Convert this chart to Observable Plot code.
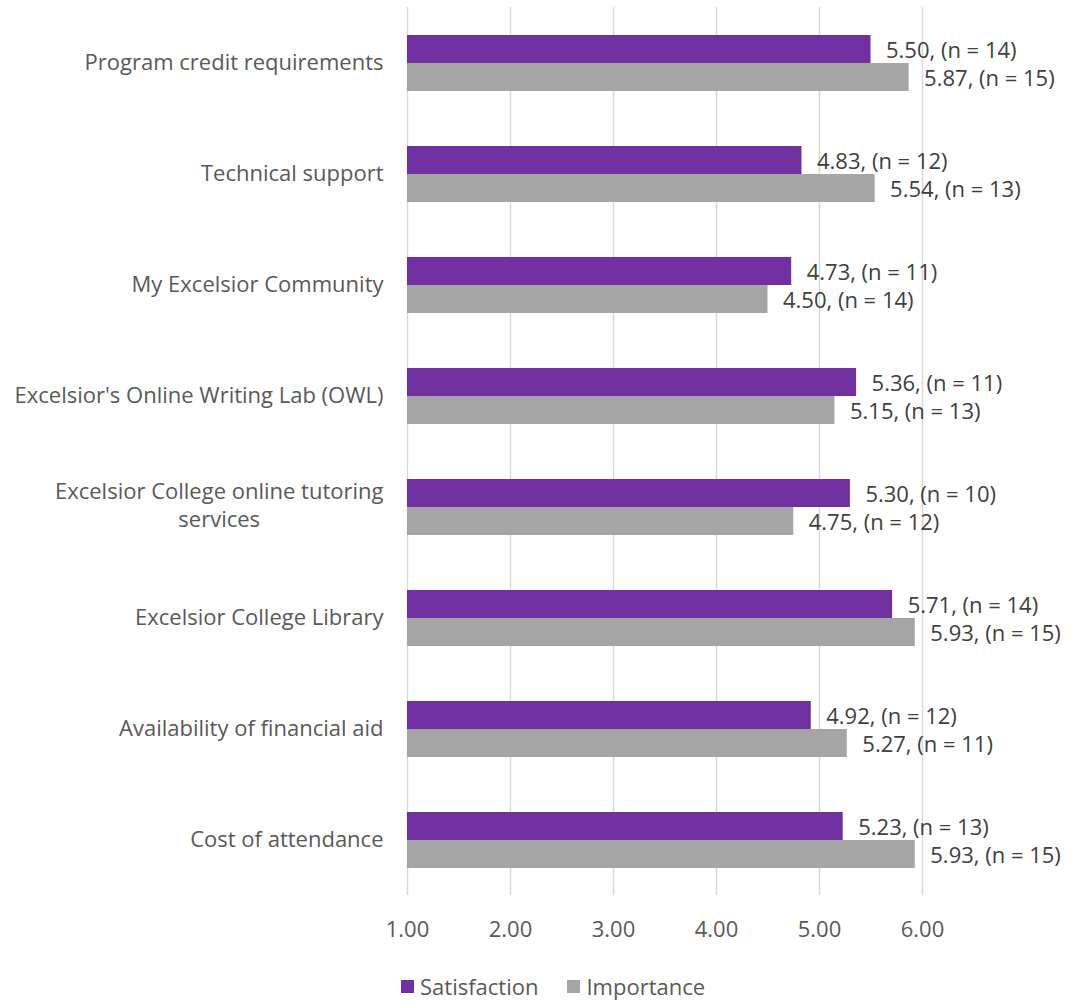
<!DOCTYPE html>
<html><head><meta charset="utf-8">
<script src="https://cdn.jsdelivr.net/npm/d3@7"></script>
<script src="https://cdn.jsdelivr.net/npm/@observablehq/plot@0.6"></script>
<style>
body{margin:0;background:#fff;font-family:"Open Sans","Noto Sans",sans-serif;}
#chart svg{display:block;}
#legend{position:relative;height:42px;font-size:22px;color:#595959;}
#legend .items{position:absolute;left:401px;top:14px;display:flex;align-items:center;line-height:24px;}
#legend .sw{display:inline-block;width:13px;height:13px;margin-right:6px;}
#legend .item{display:flex;align-items:center;margin-right:29px;}
</style></head><body>
<div id="chart"></div>
<div id="legend"><div class="items"></div></div>
<script>
const categories = [
  "Program credit requirements",
  "Technical support",
  "My Excelsior Community",
  "Excelsior's Online Writing Lab (OWL)",
  "Excelsior College online tutoring\nservices",
  "Excelsior College Library",
  "Availability of financial aid",
  "Cost of attendance"
];
const series = ["Satisfaction", "Importance"];
const satisfaction = [5.50, 4.83, 4.73, 5.36, 5.30, 5.71, 4.92, 5.23];
const satisfactionN = [14, 12, 11, 11, 10, 14, 12, 13];
const importance = [5.87, 5.54, 4.50, 5.15, 4.75, 5.93, 5.27, 5.93];
const importanceN = [15, 13, 14, 13, 12, 15, 11, 15];
const xTicks = [1, 2, 3, 4, 5, 6];
const colors = ["#7030A0", "#A5A5A5"];

const data = categories.flatMap((c, i) => [
  {category: c, series: series[0], value: satisfaction[i], n: satisfactionN[i]},
  {category: c, series: series[1], value: importance[i], n: importanceN[i]}
]);

const chart = Plot.plot({
  width: 1072,
  height: 960,
  marginLeft: 407,
  marginRight: 150,
  marginTop: 6,
  marginBottom: 65,
  style: {fontFamily: '"Open Sans", "Noto Sans", sans-serif', fontSize: "22px", color: "#595959", background: "#fff", overflow: "visible"},
  x: {domain: [1, 6], ticks: xTicks, tickFormat: d => d.toFixed(2), tickSize: 0, tickPadding: 26, label: null},
  fy: {domain: categories, padding: 0, axis: "left", label: null, tickSize: 0, tickPadding: 24},
  y: {domain: series, paddingInner: 0, paddingOuter: 0.914, axis: null},
  color: {domain: series, range: colors},
  marks: [
    Plot.gridX(xTicks, {stroke: "#d9d9d9", strokeOpacity: 1, strokeWidth: 1.5}),
    Plot.barX(data, {fy: "category", y: "series", x1: 1, x2: "value", fill: "series"}),
    Plot.text(data, {
      fy: "category", y: "series", x: "value",
      text: d => `${d.value.toFixed(2)}, (n = ${d.n})`,
      textAnchor: "start", dx: 15, dy: 1, fill: "#404040", fontSize: 22
    })
  ]
});
document.getElementById("chart").appendChild(chart);

// center multi-line category labels like the original
chart.querySelectorAll("text").forEach(t => {
  const spans = t.querySelectorAll("tspan");
  if (spans.length > 1) {
    let w = 0;
    spans.forEach(s => { w = Math.max(w, s.getComputedTextLength()); });
    t.setAttribute("text-anchor", "middle");
    spans.forEach((s, i) => {
      s.setAttribute("x", -w / 2);
      s.setAttribute("dy", i === 0 ? "-0.2em" : "1.3em");
    });
  }
});

const items = document.querySelector("#legend .items");
series.forEach((s, i) => {
  const el = document.createElement("div");
  el.className = "item";
  el.innerHTML = `<span class="sw" style="background:${colors[i]}"></span>${s}`;
  items.appendChild(el);
});
</script>
</body></html>
